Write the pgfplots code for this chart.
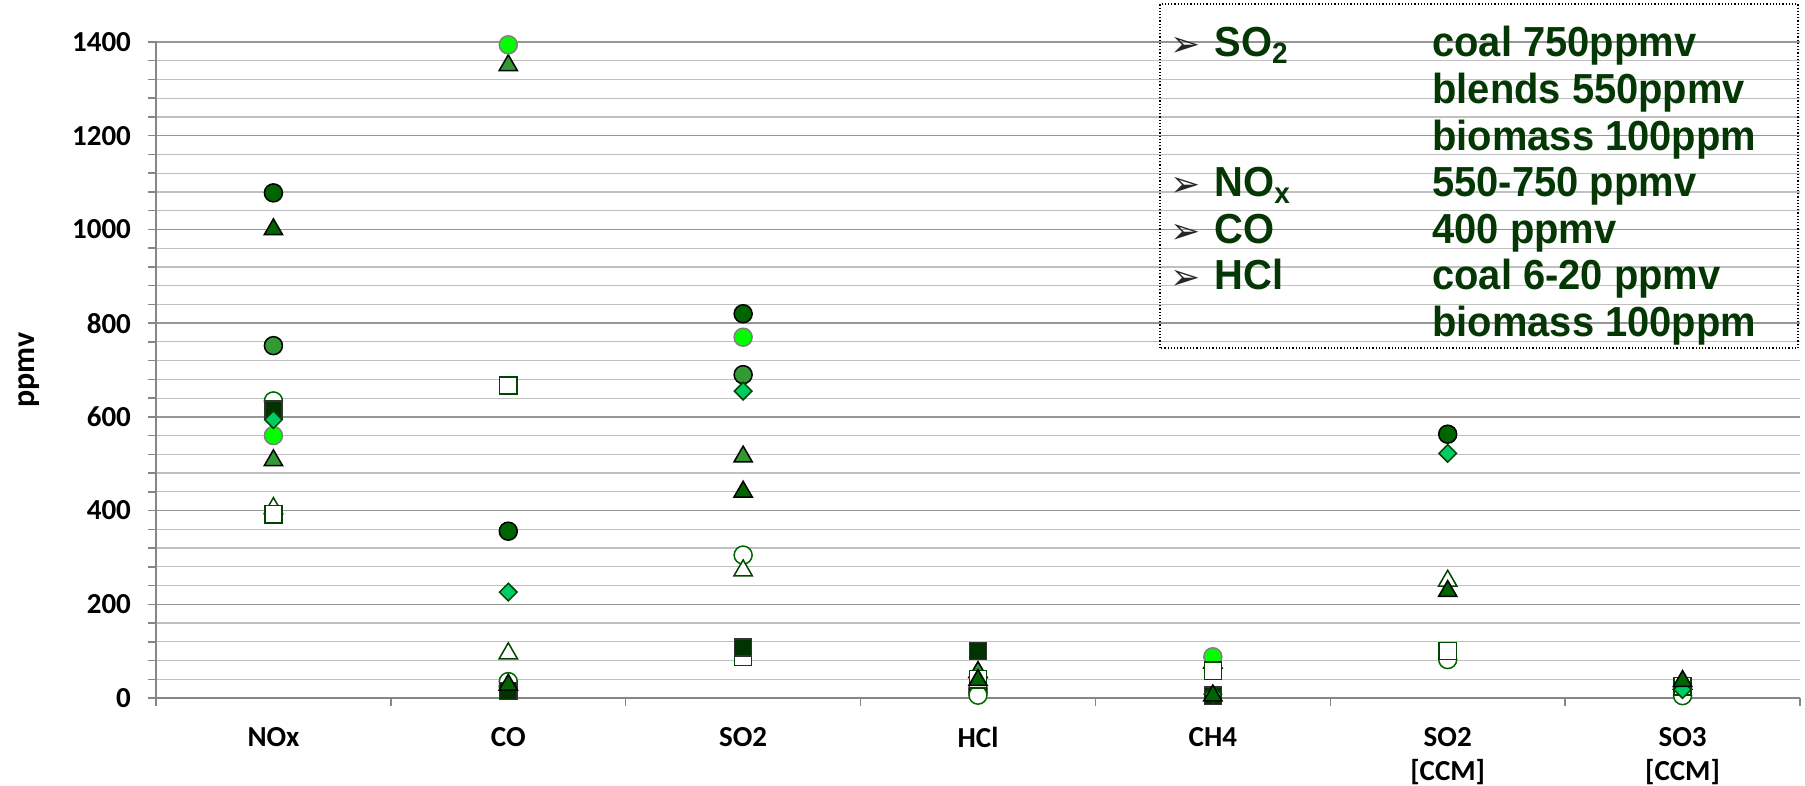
\documentclass[border=0pt]{standalone}
\usepackage{fontspec}
\setmainfont{Carlito}
\newfontfamily\lgfont[FakeStretch=0.95]{Liberation Sans}
\newfontfamily\symfont{DejaVu Sans}
\usepackage{pgfplots}
\pgfplotsset{compat=1.18}

\definecolor{darkg}{RGB}{0,100,0}
\definecolor{midg}{RGB}{51,153,51}
\definecolor{brightg}{RGB}{0,255,0}
\definecolor{diamg}{RGB}{0,204,102}
\definecolor{sqdark}{RGB}{0,51,0}
\definecolor{edgeg}{RGB}{0,100,0}
\definecolor{edgedk}{RGB}{0,70,0}
\definecolor{txtg}{RGB}{5,55,5}
\definecolor{axgray}{RGB}{134,134,134}
\definecolor{majgray}{RGB}{150,150,150}
\definecolor{mingray}{RGB}{192,192,192}

\pgfplotsset{
  dcirc/.style={only marks, mark=*, mark size=4.5pt, mark options={fill=darkg, draw=black, line width=0.75pt}},
  dtri/.style={only marks, mark=triangle*, mark size=5.3pt, mark options={fill=darkg, draw=black, line width=0.75pt}},
  mcirc/.style={only marks, mark=*, mark size=4.5pt, mark options={fill=midg, draw=black, line width=0.75pt}},
  mtri/.style={only marks, mark=triangle*, mark size=5.3pt, mark options={fill=midg, draw=black, line width=0.75pt}},
  bcirc/.style={only marks, mark=*, mark size=4.5pt, mark options={fill=brightg, draw=gray, line width=0.75pt}},
  ocirc/.style={only marks, mark=*, mark size=4.5pt, mark options={fill=white, draw=edgeg, line width=0.75pt}},
  otri/.style={only marks, mark=triangle*, mark size=5.3pt, mark options={fill=white, draw=edgedk, line width=0.75pt}},
  osq/.style={only marks, mark=square*, mark size=4.3pt, mark options={fill=white, draw=edgedk, line width=0.75pt}},
  dsq/.style={only marks, mark=square*, mark size=4.3pt, mark options={fill=sqdark, draw=black!80, line width=0.75pt}},
  diam/.style={only marks, mark=square*, mark size=3.1pt, mark options={rotate=45, fill=diamg, draw=edgedk, line width=0.75pt}},
}

\begin{document}
\begin{tikzpicture}
\begin{axis}[
    scale only axis,
    width=822pt, height=328pt,
    xmin=-0.5, xmax=6.5, ymin=0, ymax=1400,
    clip=false,
    axis x line*=bottom, axis y line*=left,
    axis line style={draw=axgray, line width=0.75pt},
    xtick={0,...,6},
    xticklabels={NOx, CO, SO2, HCl, CH4, SO2\\{[CCM]}, SO3\\{[CCM]}},
    minor xtick={-0.5,0.5,...,6.5},
    major x tick style={draw=none},
    ytick={0,200,...,1400},
    minor y tick num=4,
    tick align=outside,
    major tick length=4pt, minor tick length=4pt,
    tick style={draw=axgray, line width=0.75pt},
    ymajorgrids, yminorgrids,
    major grid style={draw=majgray, line width=0.75pt},
    minor grid style={draw=mingray, line width=0.6pt},
    /pgf/number format/assume math mode=true,
    /pgf/number format/1000 sep={},
    tick label style={font=\bfseries\fontsize{14.5}{17}\selectfont},
    xticklabel style={align=center, yshift=-7pt},
    yticklabel style={xshift=-5pt},
]

% medium green circles
\addplot[mcirc] coordinates {(0,752) (1,25) (2,690) (3,12)};
% dark green circles
\addplot[dcirc] coordinates {(0,1078) (1,356) (2,820) (3,20) (5,563)};
% medium green triangles
\addplot[mtri] coordinates {(0,507) (1,1350) (2,515) (3,55) (4,75) (6,30)};
% bright green circles
\addplot[bcirc] coordinates {(0,560) (1,1394) (2,770) (4,88)};
% open circles
\addplot[ocirc] coordinates {(0,634) (1,35) (2,305) (3,6) (5,82) (6,5)};
% open triangles
\addplot[otri] coordinates {(0,405) (1,95) (2,272) (5,250)};
% open squares
\addplot[osq] coordinates {(0,392) (1,667) (2,88) (3,40) (4,58) (5,100) (6,25)};
% dark squares
\addplot[dsq] coordinates {(0,615) (1,15) (2,108) (3,100) (4,5)};
% diamonds
\addplot[diam] coordinates {(0,594) (1,226) (2,655) (4,8) (5,522) (6,18)};
% dark green triangles
\addplot[dtri] coordinates {(0,1000) (1,28) (2,440) (3,38) (4,5) (5,228) (6,36)};

\coordinate (O) at (rel axis cs:0,0);
\end{axis}

\node[rotate=90, font=\bfseries\fontsize{16}{19}\selectfont] at ([shift={(-63.5pt,164pt)}]O) {ppmv};

% text box
\draw[black, densely dotted, line width=0.6pt] ([shift={(502pt,175pt)}]O) rectangle ([shift={(821pt,347pt)}]O);
\begin{scope}[every node/.style={anchor=base west, inner sep=0pt, text=txtg, font=\lgfont\bfseries\fontsize{21}{23}\selectfont}]
  \foreach \yy/\bul/\lab/\val in {320.5/1/SO\textsubscript{2}/coal 750ppmv,
                                  297.2/0//blends 550ppmv,
                                  273.9/0//biomass 100ppm,
                                  250.6/1/NO\textsubscript{x}/550-750 ppmv,
                                  227.3/1/CO/400 ppmv,
                                  204/1/HCl/coal 6-20 ppmv,
                                  180.7/0//biomass 100ppm}{
    \ifnum\bul=1
      \node[text=black!85, font=\symfont\fontsize{18}{20}\selectfont] at ([shift={(507pt,\yy pt)}]O) {➢};
    \fi
    \node at ([shift={(529pt,\yy pt)}]O) {\lab};
    \node at ([shift={(638pt,\yy pt)}]O) {\val};
  }
\end{scope}

\pgfresetboundingbox
\path ([shift={(-78pt,-44pt)}]O) rectangle ([shift={(824.5pt,349pt)}]O);
\end{tikzpicture}
\end{document}
